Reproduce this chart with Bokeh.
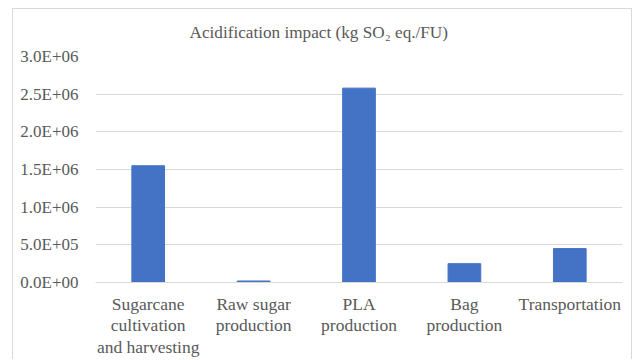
from bokeh.plotting import figure
from bokeh.models import FactorRange, Range1d, FixedTicker, CustomJSTickFormatter, ColumnDataSource
from bokeh.embed import file_html
from bokeh.resources import INLINE

# Acidification impact per life-cycle stage (kg SO2 eq./FU)
stages = [
    "Sugarcane\ncultivation\nand harvesting",
    "Raw sugar\nproduction",
    "PLA\nproduction",
    "Bag\nproduction",
    "Transportation",
]
impact = [1.55e6, 2.0e4, 2.58e6, 2.5e5, 4.5e5]

y_ticks = [0, 5e5, 1.0e6, 1.5e6, 2.0e6, 2.5e6, 3.0e6]

FONT = "Liberation Serif"
TEXT = "#595959"
GRID = "#d9d9d9"

# the chart sits inside a thin light-grey box, open at the bottom
p = figure(
    width=620, height=351,
    x_range=FactorRange(*stages, range_padding=0),
    y_range=Range1d(0, 3.0e6),
    output_backend="svg", toolbar_location=None,
    min_border_left=82, min_border_right=11, min_border_top=47, min_border_bottom=77,
    margin=(8, 0, 0, 12),
    styles={
        "border-top": f"1px solid {GRID}",
        "border-left": f"1px solid {GRID}",
        "border-right": f"1px solid {GRID}",
    },
)
p.outline_line_color = None
p.background_fill_color = "white"
p.border_fill_color = "white"

src = ColumnDataSource(dict(stage=stages, impact=impact))
p.vbar(x="stage", top="impact", width=0.31, source=src, color="#4472C4")

# chart title
p.title.text = "Acidification impact (kg SO\u2082 eq./FU)"
p.title.align = "left"
p.title.offset = 94
p.title.standoff = 26
p.title.vertical_align = "top"
p.title.text_font = FONT
p.title.text_font_size = "17.2px"
p.title.text_font_style = "normal"
p.title.text_color = TEXT

# y axis, scientific labels like 1.5E+06
p.yaxis.ticker = FixedTicker(ticks=y_ticks)
p.yaxis.formatter = CustomJSTickFormatter(code="""
    const [m, e] = tick.toExponential(1).split("e");
    const n = Math.abs(parseInt(e));
    return m + "E" + (parseInt(e) < 0 ? "-" : "+") + (n < 10 ? "0" + n : "" + n);
""")
p.yaxis.axis_line_color = None
p.yaxis.major_tick_line_color = None
p.yaxis.minor_tick_line_color = None
p.yaxis.major_tick_out = 0
p.yaxis.major_label_standoff = 17
p.yaxis.major_label_text_font = FONT
p.yaxis.major_label_text_font_size = "17px"
p.yaxis.major_label_text_color = TEXT
p.ygrid.grid_line_color = GRID
p.ygrid.grid_line_width = 1

# x axis
p.xaxis.axis_line_color = GRID
p.xaxis.major_tick_line_color = None
p.xaxis.major_tick_out = 0
p.xaxis.major_label_standoff = 11
p.xaxis.major_label_text_font = FONT
p.xaxis.major_label_text_font_size = "17.5px"
p.xaxis.major_label_text_color = TEXT
p.xaxis.major_label_text_line_height = 1.09
p.xaxis.major_label_orientation = "horizontal"
p.xgrid.grid_line_color = None

open("out.html", "w").write(file_html(p, INLINE))
